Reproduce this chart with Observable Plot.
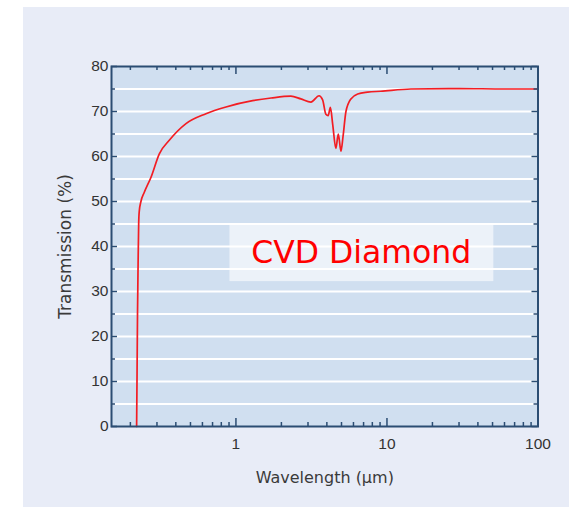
<!DOCTYPE html>
<html>
<head>
<meta charset="utf-8">
<script src="https://cdn.jsdelivr.net/npm/d3@7"></script>
<script src="https://cdn.jsdelivr.net/npm/@observablehq/plot@0.6"></script>
<style>
  html, body { margin: 0; padding: 0; background: #ffffff; }
  #wrap { position: relative; width: 569px; height: 507px; overflow: hidden; }
  #panel { position: absolute; left: 23px; top: 7px; right: 0; bottom: 0; background: #e8ecf7; }
  #chart { position: absolute; left: 0; top: 0; }
  svg { background: transparent !important; }
</style>
</head>
<body>
<div id="wrap"><div id="panel"></div><div id="chart"></div></div>
<script>
// Wavelength (µm) and transmission (%)
const wavelength = [0.220, 0.2215, 0.223, 0.225, 0.227, 0.229, 0.235, 0.247, 0.274, 0.311, 0.362, 0.467, 0.633, 0.859, 1.29, 1.71, 2.31, 2.69, 3.14, 3.55, 3.75, 3.94, 4.08, 4.22, 4.37, 4.59, 4.76, 4.96, 5.12, 5.35, 5.77, 6.40, 7.45, 9.1, 14.4, 30, 60, 100];
const transmission = [0, 12, 25, 36, 45, 47.8, 50.0, 52, 55.4, 60.6, 63.6, 67.3, 69.5, 71.0, 72.4, 73.0, 73.4, 72.8, 72.1, 73.5, 72.6, 69.4, 69.1, 70.9, 67.2, 61.8, 65.0, 61.2, 64.5, 70.0, 72.8, 73.9, 74.3, 74.5, 75.0, 75.1, 75.0, 75.0];

const xMajorTicks = [1, 10, 100];
const xMinorTicks = [0.2, 0.3, 0.4, 0.5, 0.6, 0.7, 0.8, 0.9, 2, 3, 4, 5, 6, 7, 8, 9, 20, 30, 40, 50, 60, 70, 80, 90];
const yMajorTicks = [0, 10, 20, 30, 40, 50, 60, 70, 80];
const yMinorTicks = [5, 15, 25, 35, 45, 55, 65, 75];
const gridLines = [5, 10, 15, 20, 25, 30, 35, 40, 45, 50, 55, 60, 65, 70, 75];

const seriesLabel = ["CVD Diamond"];
const xLabel = ["Wavelength (μm)"];
const yLabel = ["Transmission (%)"];

const data = wavelength.map((w, i) => ({w, t: transmission[i]}));

const W = 569, H = 507;
const mL = 111, mR = 31.5, mT = 66, mB = 81;
const innerW = W - mL - mR, innerH = H - mT - mB;
const axisColor = "#2b4d73";

const chart = Plot.plot({
  width: W,
  height: H,
  marginLeft: mL,
  marginRight: mR,
  marginTop: mT,
  marginBottom: mB,
  style: {background: "transparent", fontFamily: "DejaVu Sans", overflow: "visible"},
  x: {type: "log", domain: [0.15, 100]},
  y: {domain: [0, 80]},
  marks: [
    Plot.frame({fill: "#d0dff0", stroke: null}),
    Plot.ruleY(gridLines, {stroke: "#ffffff", strokeWidth: 2}),
    // annotation box and text
    Plot.rect([0], {x1: 0.913, x2: 51, y1: 32.2, y2: 45.1, fill: "#ffffff", fillOpacity: 0.6}),
    Plot.text(seriesLabel, {x: 6.75, y: 38.6, text: d => d, fill: "#ff0000", fontSize: 31.5, fontFamily: "DejaVu Sans", textAnchor: "middle"}),
    // curve
    Plot.line(data, {x: "w", y: "t", stroke: "#f21d23", strokeWidth: 1.7, curve: "monotone-x"}),
    // inward ticks: bottom
    Plot.tickX(xMinorTicks, {x: d => d, stroke: axisColor, strokeWidth: 1.5, insetTop: innerH - 4}),
    Plot.tickX(xMajorTicks, {x: d => d, stroke: axisColor, strokeWidth: 1.5, insetTop: innerH - 8}),
    // top
    Plot.tickX(xMinorTicks, {x: d => d, stroke: axisColor, strokeWidth: 1.5, insetBottom: innerH - 4}),
    Plot.tickX(xMajorTicks, {x: d => d, stroke: axisColor, strokeWidth: 1.5, insetBottom: innerH - 8}),
    // left
    Plot.tickY(yMinorTicks, {y: d => d, stroke: axisColor, strokeWidth: 1.5, insetRight: innerW - 4}),
    Plot.tickY(yMajorTicks, {y: d => d, stroke: axisColor, strokeWidth: 1.5, insetRight: innerW - 6}),
    // right
    Plot.tickY(yMinorTicks, {y: d => d, stroke: axisColor, strokeWidth: 1.5, insetLeft: innerW - 4}),
    Plot.tickY(yMajorTicks, {y: d => d, stroke: axisColor, strokeWidth: 1.5, insetLeft: innerW - 6}),
    Plot.frame({stroke: axisColor, strokeWidth: 2}),
    Plot.axisY({ticks: yMajorTicks, tickSize: 0, tickPadding: 3, label: null, fontSize: 15.5, fill: "#333333", fontFamily: "Liberation Sans"}),
    Plot.axisX({ticks: xMajorTicks, tickFormat: d => String(d), tickSize: 0, tickPadding: 11, label: null, fontSize: 15.5, fill: "#333333", fontFamily: "Liberation Sans"}),
    Plot.text(xLabel, {frameAnchor: "bottom", dy: 51, lineAnchor: "middle", textAnchor: "middle", text: d => d, fontSize: 16, fill: "#3a3a3a", fontFamily: "DejaVu Sans"}),
    Plot.text(yLabel, {frameAnchor: "left", dx: -46, rotate: -90, textAnchor: "middle", lineAnchor: "middle", text: d => d, fontSize: 17, fill: "#3a3a3a", fontFamily: "DejaVu Sans"})
  ]
});
document.getElementById("chart").appendChild(chart);
</script>
</body>
</html>
